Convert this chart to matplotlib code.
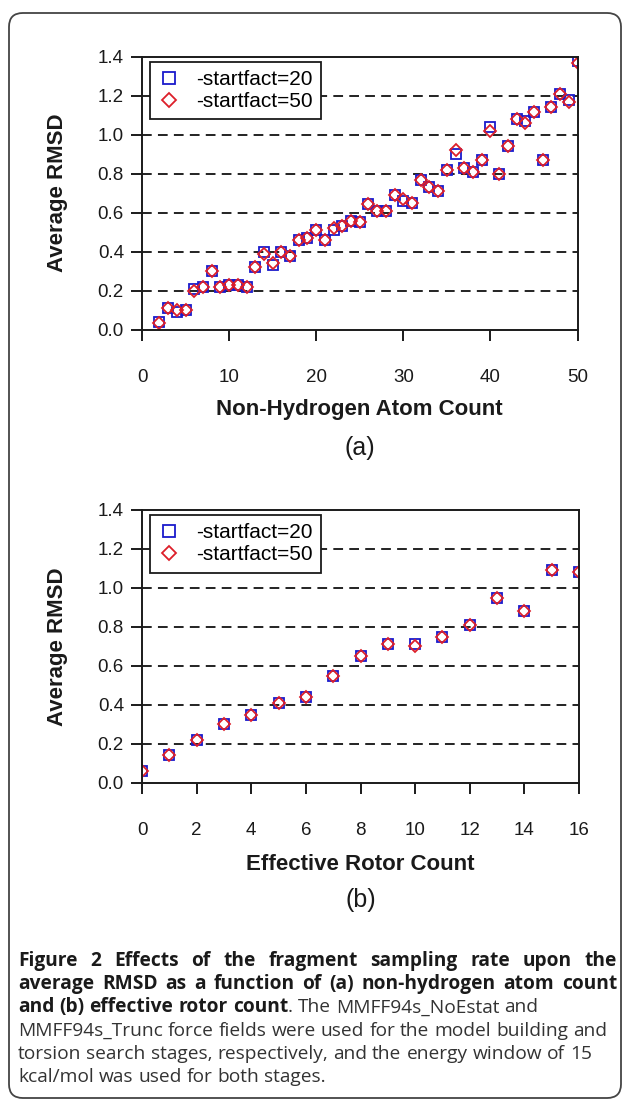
import matplotlib
matplotlib.use('Agg')
import matplotlib.pyplot as plt
from matplotlib.patches import FancyBboxPatch
import numpy as np

# panel (a): non-hydrogen atom count
atoms = list(range(2, 51))
rmsd_a_20 = [0.04, 0.11, 0.09, 0.10, 0.21, 0.22, 0.30, 0.22, 0.23, 0.23, 0.22, 0.32,
             0.40, 0.33, 0.40, 0.38, 0.46, 0.47, 0.51, 0.46, 0.51, 0.53, 0.56, 0.55,
             0.645, 0.61, 0.61, 0.69, 0.66, 0.65, 0.77, 0.73, 0.71, 0.82, 0.90, 0.83,
             0.81, 0.87, 1.04, 0.80, 0.94, 1.08, 1.07, 1.115, 0.87, 1.14, 1.21, 1.18, 1.38]
rmsd_a_50 = [0.035, 0.11, 0.10, 0.10, 0.20, 0.22, 0.30, 0.22, 0.23, 0.23, 0.22, 0.32,
             0.39, 0.34, 0.40, 0.38, 0.46, 0.47, 0.51, 0.46, 0.52, 0.53, 0.56, 0.55,
             0.645, 0.61, 0.61, 0.69, 0.67, 0.65, 0.77, 0.73, 0.71, 0.82, 0.92, 0.83,
             0.81, 0.87, 1.02, 0.80, 0.94, 1.08, 1.06, 1.115, 0.87, 1.14, 1.21, 1.17, 1.37]

# panel (b): effective rotor count
rotors = list(range(0, 17))
rmsd_b_20 = [0.06, 0.14, 0.22, 0.30, 0.35, 0.41, 0.44, 0.55, 0.65, 0.71, 0.71,
             0.75, 0.81, 0.95, 0.88, 1.09, 1.08]
rmsd_b_50 = [0.06, 0.14, 0.22, 0.30, 0.35, 0.41, 0.44, 0.55, 0.65, 0.71, 0.70,
             0.75, 0.81, 0.95, 0.88, 1.09, 1.08]

labels = ['-startfact=20', '-startfact=50']
yticks = [0.0, 0.2, 0.4, 0.6, 0.8, 1.0, 1.2, 1.4]

W, H = 629, 1105
fig = plt.figure(figsize=(W / 100, H / 100), dpi=100)
plt.rcParams['font.family'] = ['Liberation Sans', 'DejaVu Sans']

blue = '#1a1acc'
red = '#dd1f2a'
dark = '#1a1a1a'


def px_box(left, top, right, bottom):
    return [left / W, 1 - bottom / H, (right - left) / W, (bottom - top) / H]


def style_axes(ax, xs, s20, s50, xmax, xstep, xlab, panel, xlab_y, panel_y):
    ax.plot(xs, s20, 's', ms=7.2, mfc='none', mec=blue, mew=1.3, label=labels[0])
    ax.plot(xs, s50, 'D', ms=6.3, mfc='none', mec=red, mew=1.3, label=labels[1])
    ax.set_xlim(0, xmax)
    ax.set_ylim(0, 1.4)
    ax.set_yticks(yticks)
    ax.set_yticklabels(['%.1f' % v for v in yticks])
    ax.set_xticks(np.arange(0, xmax + 1, xstep))
    for v in yticks[1:-1]:
        ax.axhline(v, color='#222222', lw=1.4, ls=(0, (5, 3.2)), zorder=0.5)
    for s in ax.spines.values():
        s.set_linewidth(1.4)
        s.set_color(dark)
    ax.tick_params(axis='y', direction='out', length=8, width=1.4, pad=5,
                   labelsize=13.5, colors=dark)
    ax.tick_params(axis='x', direction='out', length=8, width=1.4, pad=20,
                   labelsize=13.5, colors=dark)
    leg = ax.legend(loc='upper left', bbox_to_anchor=(0.018, 0.982), borderaxespad=0,
                    fontsize=15, handlelength=1.0, handletextpad=0.8, borderpad=0.4,
                    labelspacing=0.15, fancybox=False, framealpha=1, markerscale=1.1)
    leg.get_frame().set_edgecolor(dark)
    leg.get_frame().set_linewidth(1.3)
    cx = (ax.get_position().x0 + ax.get_position().x1) / 2
    fig.text(cx, 1 - xlab_y / H, xlab, ha='center', va='baseline', fontsize=16,
             fontweight='bold', color=dark)
    cy = (ax.get_position().y0 + ax.get_position().y1) / 2
    fig.text(57 / W, cy, 'Average RMSD', ha='center', va='center', rotation=90,
             fontsize=16, fontweight='bold', color=dark)
    fig.text(cx, 1 - panel_y / H, panel, ha='center', va='center', fontsize=18,
             color=dark)


ax_a = fig.add_axes(px_box(142, 56.7, 577.5, 329.7))
style_axes(ax_a, atoms, rmsd_a_20, rmsd_a_50, 50, 10, 'Non-Hydrogen Atom Count',
           '(a)', 415, 448)
ax_b = fig.add_axes(px_box(142, 510, 579, 782.7))
style_axes(ax_b, rotors, rmsd_b_20, rmsd_b_50, 16, 2, 'Effective Rotor Count',
           '(b)', 870, 900)

# rounded frame around figure and caption
frame = FancyBboxPatch((9 / W, 1 - 1098 / H), (621 - 9) / W, (1098 - 13) / H,
                       boxstyle='round,pad=0,rounding_size=0.022',
                       transform=fig.transFigure, fill=False, ec='#444444', lw=1.3,
                       mutation_aspect=W / H)
fig.patches.append(frame)

# caption, drawn word by word so bold and regular runs can share a line
caption = [
    ([('Figure 2 Effects of the fragment sampling rate upon the', 'bold')], True),
    ([('average RMSD as a function of (a) non-hydrogen atom count', 'bold')], True),
    ([('and (b) effective rotor count', 'bold'), ('. The MMFF94s_NoEstat and', 'normal')], False),
    ([('MMFF94s_Trunc force fields were used for the model building and', 'normal')], False),
    ([('torsion search stages, respectively, and the energy window of 15', 'normal')], False),
    ([('kcal/mol was used for both stages.', 'normal')], False),
]
cap_left, cap_right = 18, 617
cap_top = 966
cap_step = 23.2
cap_size = 13.8
renderer = fig.canvas.get_renderer()


def text_width(s, weight):
    t = fig.text(0, 0, s, fontsize=cap_size, fontweight=weight, family='Open Sans')
    w = t.get_window_extent(renderer).width
    t.remove()
    return w


for i, (runs, justify) in enumerate(caption):
    y = 1 - (cap_top + i * cap_step) / H
    words = []
    for j, (txt, weight) in enumerate(runs):
        parts = txt.split(' ')
        for k, p in enumerate(parts):
            glue = (k == 0 and j > 0)  # run continues previous word (punctuation)
            words.append((p, weight, glue))
    widths = [text_width(w, wt) for w, wt, g in words]
    space = text_width('a a', 'normal') - text_width('aa', 'normal')
    gaps = sum(1 for w in words[1:] if not w[2])
    if justify and gaps:
        space = (cap_right - cap_left - sum(widths)) / gaps
    x = cap_left
    for (w, wt, g), wd in zip(words, widths):
        if x > cap_left and not g:
            x += space
        col = '#1a1a1a' if wt == 'bold' else '#333333'
        fig.text(x / W, y, w, fontsize=cap_size, fontweight=wt, family='Open Sans',
                 color=col, ha='left', va='baseline')
        x += wd

plt.savefig('out.png', dpi=100)
